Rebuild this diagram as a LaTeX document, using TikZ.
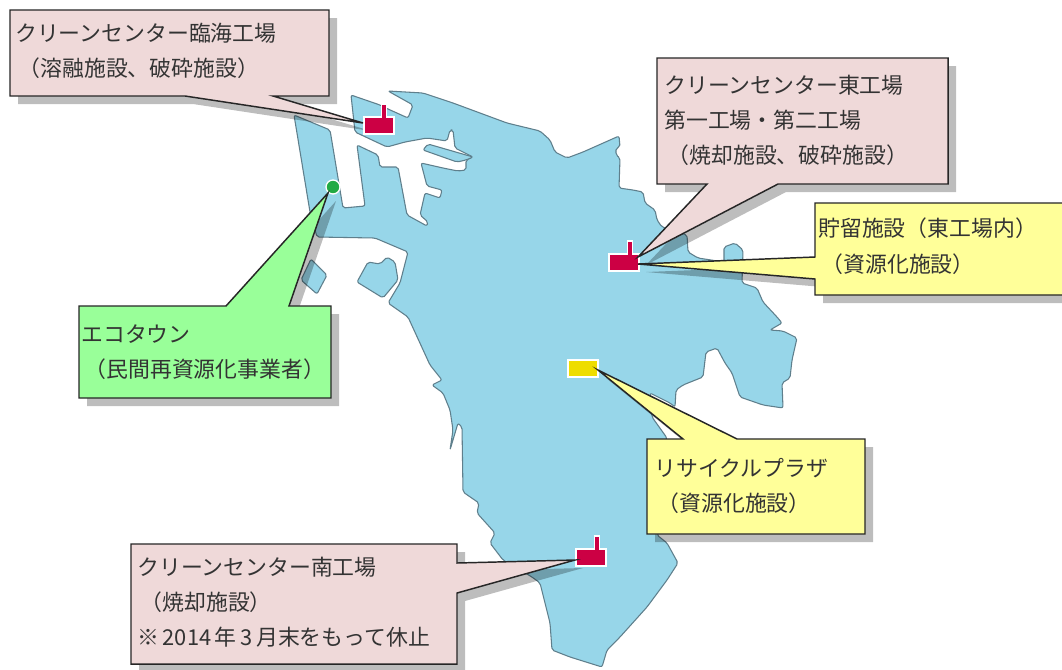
\documentclass[tikz,border=0pt]{standalone}
\usepackage{fontspec}
\setmainfont{Noto Sans CJK JP}
\definecolor{landblue}{HTML}{97D6E9}
\definecolor{coast}{HTML}{5F7F8C}
\definecolor{pinkbox}{HTML}{EFD9D9}
\definecolor{yellowbox}{HTML}{FFFF99}
\definecolor{greenbox}{HTML}{99FF99}
\definecolor{factory}{HTML}{CC0044}
\definecolor{plaza}{HTML}{EEDD00}
\definecolor{dotgreen}{HTML}{22AA44}
\definecolor{txt}{HTML}{333333}
\tikzset{
 land/.style={fill=landblue,draw=coast,line width=0.8pt,line join=round,rounded corners=1.5pt},
 callout/.style={draw=black!85,line width=1.1pt,line join=miter},
 shade/.style={fill=black,fill opacity=0.26,draw=none,shift={(8,8)}},
 label/.style={anchor=north west,align=left,text=txt,font=\fontsize{16.4}{26.3}\selectfont,inner sep=0pt},
}
\newcommand{\facticon}[3]{% x y chimney-x
  \fill[white] (#1-2,#2-2) rectangle (#1+30,#2+17);
  \fill[white] (#3-3,#2-15) rectangle (#3+3,#2);
  \fill[factory] (#1,#2) rectangle (#1+28,#2+15);
  \fill[factory] (#3-1.6,#2-13) rectangle (#3+1.6,#2);
}
\begin{document}
\begin{tikzpicture}[x=0.75pt,y=-0.75pt]
\useasboundingbox (0,0) rectangle (1062,669);
\fill[white] (0,0) rectangle (1062,669);
% land
\path[land] (388,91) -- (423,93) -- (453,103) -- (480,113) -- (507,123) -- (540,131) -- (550,140) -- (555,152) -- (567,158) -- (583,152) -- (619,136) -- (620,147) -- (616,148) -- (616,155) -- (620,158) -- (619,188) -- (633,190) -- (643,192) -- (645,203) -- (655,210) -- (657,220) -- (662,227) -- (687,235) -- (688,252) -- (698,258) -- (724,262) -- (724,247) -- (735,243) -- (743,250) -- (742,283) -- (757,288) -- (763,302) -- (777,317) -- (782,323) -- (770,330) -- (783,331) -- (797,338) -- (792,360) -- (790,378) -- (782,383) -- (783,408) -- (763,405) -- (740,397) -- (732,373) -- (725,363) -- (717,348) -- (706,352) -- (703,377) -- (683,385) -- (676,390) -- (675,407) -- (670,403) -- (650,393) -- (652,417) -- (667,438) -- (657,535) -- (667,543) -- (678,563) -- (667,580) -- (647,607) -- (620,637) -- (607,650) -- (602,667) -- (570,657) -- (552,650) -- (550,623) -- (540,583) -- (532,577) -- (503,560) -- (490,543) -- (495,533) -- (477,513) -- (479,503) -- (463,492) -- (462,427) -- (458,423) -- (450,450) -- (453,430) -- (450,410) -- (443,393) -- (432,385) -- (442,380) -- (430,365) -- (408,317) -- (388,303) -- (400,283) -- (408,252) -- (375,238) -- (317,237) -- (310,212) -- (294,115) -- (330,130) -- (343,208) -- (365,206) -- (357,145) -- (378,155) -- (380,167) -- (398,167) -- (407,215) -- (427,226) -- (428,222) -- (420,215) -- (425,193) -- (440,198) -- (442,190) -- (427,186) -- (421,163) -- (443,168) -- (458,171) -- (466,170) -- (466,160) -- (473,157) -- (455,148) -- (453,130) -- (450,130) -- (447,141) -- (427,138) -- (405,142) -- (387,147) -- (355,132) -- (351,95) -- (380,105) -- (388,109) -- (408,118) -- (413,105) -- cycle;
\path[land] (423,150) -- (428,144) -- (473,157) -- (466,160) -- (457,162) -- cycle;
\path[land] (311,259) -- (327,275) -- (317,294) -- (301,280) -- cycle;
\path[land] (368,262) -- (380,264) -- (387,257) -- (395,262) -- (398,280) -- (383,298) -- (357,282) -- cycle;
% shadows
\fill[shade] (10,10) -- (329,10) -- (329,96) -- (273,96) -- (363,123) -- (185,96) -- (10,96) -- cycle;
\fill[shade] (657,58) -- (948,58) -- (948,184) -- (778,184) -- (638,257) -- (707,184) -- (657,184) -- cycle;
\fill[shade] (815,203) -- (1062,203) -- (1062,295) -- (815,295) -- (815,279) -- (638,264) -- (815,257) -- cycle;
\fill[shade] (79,306) -- (226,306) -- (328,193) -- (289,306) -- (331,306) -- (331,398) -- (79,398) -- cycle;
\fill[shade] (647,439) -- (683,439) -- (598,370) -- (737,439) -- (865,439) -- (865,534) -- (647,534) -- cycle;
\fill[shade] (131,544) -- (457,544) -- (457,563) -- (575,560) -- (457,593) -- (457,664) -- (131,664) -- cycle;
% icons
\facticon{365}{118}{384}
\facticon{610}{255}{630}
\facticon{577}{550}{597}
\fill[white] (567,359) rectangle (599,378);
\fill[plaza] (569,361) rectangle (597,376);
\fill[dotgreen,draw=white,line width=1pt] (333,187) circle (7);
% callouts
\path[callout,fill=pinkbox] (10,10) -- (329,10) -- (329,96) -- (273,96) -- (363,123) -- (185,96) -- (10,96) -- cycle;
\path[callout,fill=pinkbox] (657,58) -- (948,58) -- (948,184) -- (778,184) -- (638,257) -- (707,184) -- (657,184) -- cycle;
\path[callout,fill=yellowbox] (815,203) -- (1066,203) -- (1066,295) -- (815,295) -- (815,279) -- (638,264) -- (815,257) -- cycle;
\path[callout,fill=greenbox] (79,306) -- (226,306) -- (328,193) -- (289,306) -- (331,306) -- (331,398) -- (79,398) -- cycle;
\path[callout,fill=yellowbox] (647,439) -- (683,439) -- (598,370) -- (737,439) -- (865,439) -- (865,534) -- (647,534) -- cycle;
\path[callout,fill=pinkbox] (131,544) -- (457,544) -- (457,563) -- (575,560) -- (457,593) -- (457,664) -- (131,664) -- cycle;
% labels
\node[label] (rinkai) at (15,23) {クリーンセンター臨海工場\\ \hspace{.15em}（溶融施設、破砕施設）};
\node[label] (higashi) at (664,75) {クリーンセンター東工場\\第一工場・第二工場\\ \hspace{.15em}（焼却施設、破砕施設）};
\node[label] (chory) at (818,218) {貯留施設（東工場内）\\ \hspace{.15em}（資源化施設）};
\node[label] (eco) at (81,324) {エコタウン\\ \hspace{.15em}（民間再資源化事業者）};
\node[label] (plz) at (654,458) {リサイクルプラザ\\ \hspace{.15em}（資源化施設）};
\node[label] (minami) at (137,557) {クリーンセンター南工場\\ \hspace{.15em}（焼却施設）\\※\,2014\,年\,3\,月末をもって休止};
\end{tikzpicture}
\end{document}
